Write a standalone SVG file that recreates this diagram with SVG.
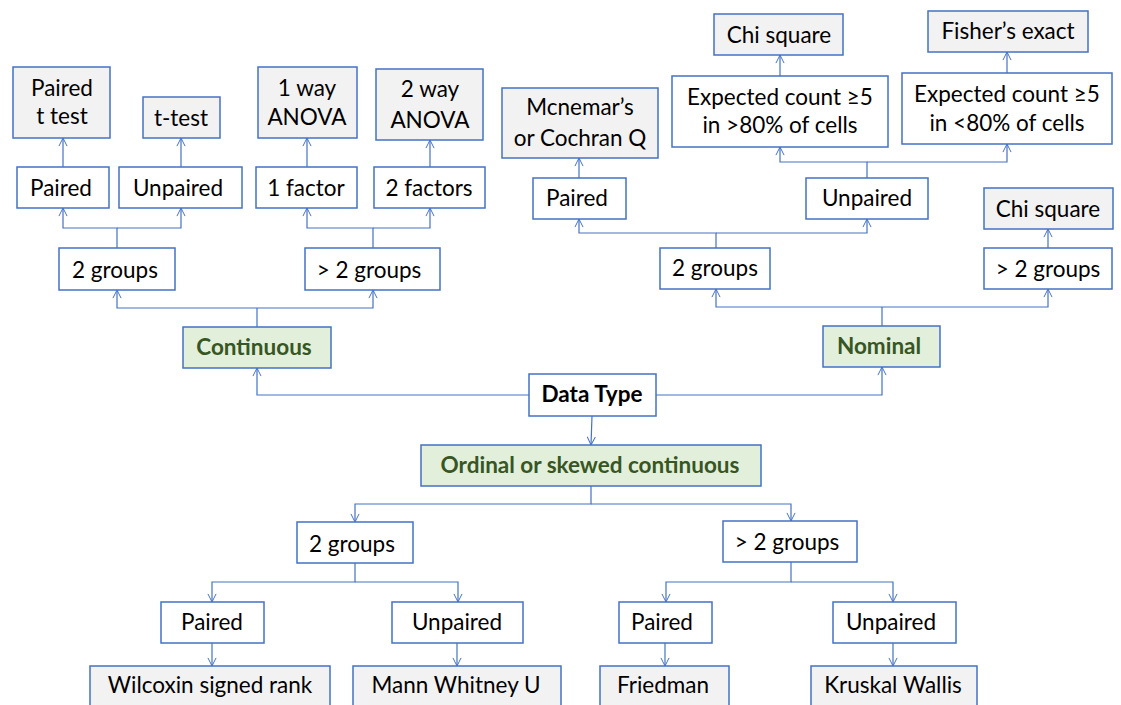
<svg xmlns="http://www.w3.org/2000/svg" width="1121" height="705" viewBox="0 0 1121 705">
<style>
.b{fill:#ffffff;stroke:#4472c4;stroke-width:1.5}
.g{fill:#f2f2f2;stroke:#4472c4;stroke-width:1.5}
.e{fill:#e2efda;stroke:#4472c4;stroke-width:1.5}
text{font-family:Lato,"Open Sans","Liberation Sans",sans-serif;font-size:22.5px;fill:#000;text-anchor:middle}
.h{font-weight:bold;fill:#375623;font-size:22.5px}
.k{font-weight:bold;font-size:22.5px}
.c path{fill:none;stroke:#4472c4;stroke-width:1.2;marker-end:url(#a)}
.c path.n{marker-end:none}
</style>
<defs>
<marker id="a" viewBox="0 0 10 10" refX="10" refY="5" markerWidth="9" markerHeight="10" markerUnits="userSpaceOnUse" orient="auto">
<path d="M1,0.5 L10,5 L1,9.5" fill="none" stroke="#4472c4" stroke-width="1.1"/>
</marker>
</defs>
<rect width="1121" height="705" fill="#ffffff"/>
<g class="c" id="connectors">
<path d="M529,395 H257 V368"/>
<path class="n" d="M257,327 V308"/>
<path d="M257,308 H117 V290"/>
<path d="M257,308 H373 V290"/>
<path d="M117,248 V228 H63 V208"/>
<path d="M117,228 H181 V208"/>
<path d="M63,167 V138"/>
<path d="M181,167 V138"/>
<path d="M373,248 V228 H307 V208"/>
<path d="M373,228 H430 V208"/>
<path d="M307,167 V138"/>
<path d="M430,167 V140"/>
<path d="M656,395 H882 V367"/>
<path class="n" d="M882,326 V307"/>
<path d="M882,307 H716 V289"/>
<path d="M882,307 H1048 V289"/>
<path d="M716,248 V233 H579 V219"/>
<path d="M716,233 H867 V219"/>
<path d="M579,178 V158"/>
<path d="M867,178 V162 H780 V147"/>
<path d="M867,162 H1007 V144"/>
<path d="M780,76 V55"/>
<path d="M1007,73 V52"/>
<path d="M1048,248 V229"/>
<path d="M592,416 L591,445"/>
<path d="M591,486 V504 H355 V522"/>
<path d="M591,504 H791 V521"/>
<path d="M355,563 V582 H212 V602"/>
<path d="M355,582 H458 V602"/>
<path d="M212,643 V666"/>
<path d="M457,643 V666"/>
<path d="M791,562 V582 H666 V602"/>
<path d="M791,582 H893 V602"/>
<path d="M665,643 V666"/>
<path d="M893,643 V666"/>
</g>
<g id="paired-t-test"><rect class="g" x="13" y="67" width="97" height="71"/><text x="62" y="96">Paired</text><text x="62" y="124">t test</text></g>
<g id="t-test"><rect class="g" x="143" y="97" width="77" height="41"/><text x="181" y="126">t-test</text></g>
<g id="c-paired"><rect class="b" x="17" y="167" width="92" height="41"/><text x="61" y="196">Paired</text></g>
<g id="c-unpaired"><rect class="b" x="119" y="167" width="123" height="41"/><text x="178" y="196">Unpaired</text></g>
<g id="c-2groups"><rect class="b" x="59" y="248" width="116" height="42"/><text x="115" y="278">2 groups</text></g>
<g id="anova1"><rect class="g" x="258" y="67" width="99" height="71"/><text x="307" y="96">1 way</text><text x="307" y="125">ANOVA</text></g>
<g id="anova2"><rect class="g" x="376" y="69" width="107" height="71"/><text x="430" y="97">2 way</text><text x="430" y="128">ANOVA</text></g>
<g id="factor1"><rect class="b" x="256" y="167" width="101" height="41"/><text x="306" y="196">1 factor</text></g>
<g id="factor2"><rect class="b" x="374" y="167" width="111" height="41"/><text x="429" y="196">2 factors</text></g>
<g id="c-gt2groups"><rect class="b" x="305" y="248" width="135" height="42"/><text x="369" y="278">&gt; 2 groups</text></g>
<g id="continuous"><rect class="e" x="183" y="327" width="148" height="41"/><text class="h" x="254" y="355">Continuous</text></g>
<g id="data-type"><rect class="b" x="529" y="374" width="127" height="42"/><text class="k" x="592" y="402">Data Type</text></g>
<g id="nominal"><rect class="e" x="823" y="326" width="117" height="41"/><text class="h" x="879" y="354">Nominal</text></g>
<g id="ordinal"><rect class="e" x="421" y="445" width="340" height="41"/><text class="h" x="590" y="473">Ordinal or skewed continuous</text></g>
<g id="chi-square-1"><rect class="g" x="714" y="14" width="129" height="41"/><text x="779" y="43">Chi square</text></g>
<g id="expected-gt80"><rect class="b" x="672" y="76" width="216" height="71"/><text x="780" y="105">Expected count ≥5</text><text x="780" y="133">in &gt;80% of cells</text></g>
<g id="mcnemar"><rect class="g" x="502" y="88" width="156" height="70"/><text x="580" y="115">Mcnemar’s</text><text x="580" y="146">or Cochran Q</text></g>
<g id="n-paired"><rect class="b" x="533" y="178" width="93" height="41"/><text x="577" y="206">Paired</text></g>
<g id="n-unpaired"><rect class="b" x="806" y="178" width="122" height="41"/><text x="867" y="206">Unpaired</text></g>
<g id="n-2groups"><rect class="b" x="660" y="248" width="110" height="41"/><text x="715" y="276">2 groups</text></g>
<g id="fisher"><rect class="g" x="928" y="11" width="160" height="41"/><text x="1008" y="39">Fisher’s exact</text></g>
<g id="expected-lt80"><rect class="b" x="902" y="73" width="210" height="71"/><text x="1007" y="102">Expected count ≥5</text><text x="1007" y="131">in &lt;80% of cells</text></g>
<g id="chi-square-2"><rect class="g" x="984" y="188" width="129" height="41"/><text x="1048" y="217">Chi square</text></g>
<g id="n-gt2groups"><rect class="b" x="984" y="248" width="128" height="41"/><text x="1048" y="277">&gt; 2 groups</text></g>
<g id="o-2groups"><rect class="b" x="297" y="522" width="116" height="41"/><text x="352" y="552">2 groups</text></g>
<g id="o-paired1"><rect class="b" x="161" y="602" width="103" height="41"/><text x="212" y="630">Paired</text></g>
<g id="o-unpaired1"><rect class="b" x="392" y="602" width="131" height="41"/><text x="457" y="630">Unpaired</text></g>
<g id="wilcoxin"><rect class="g" x="90" y="666" width="240" height="50"/><text x="210" y="693">Wilcoxin signed rank</text></g>
<g id="mann-whitney"><rect class="g" x="353" y="666" width="208" height="50"/><text x="456" y="693">Mann Whitney U</text></g>
<g id="o-gt2groups"><rect class="b" x="723" y="521" width="134" height="41"/><text x="787" y="550">&gt; 2 groups</text></g>
<g id="o-paired2"><rect class="b" x="619" y="602" width="93" height="41"/><text x="662" y="630">Paired</text></g>
<g id="o-unpaired2"><rect class="b" x="833" y="602" width="123" height="41"/><text x="891" y="630">Unpaired</text></g>
<g id="friedman"><rect class="g" x="600" y="666" width="129" height="50"/><text x="663" y="693">Friedman</text></g>
<g id="kruskal"><rect class="g" x="811" y="666" width="166" height="50"/><text x="893" y="693">Kruskal Wallis</text></g>
</svg>
